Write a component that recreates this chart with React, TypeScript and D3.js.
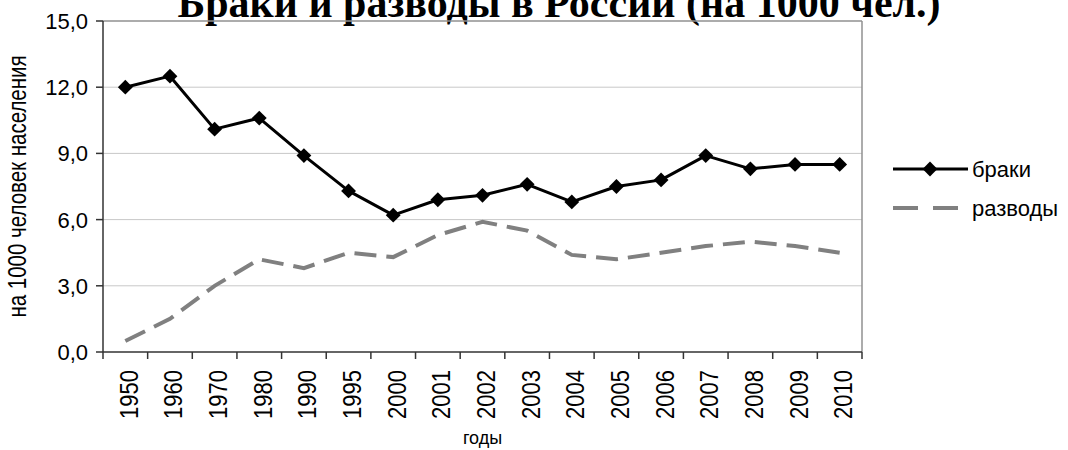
import * as d3 from 'd3';
import * as React from 'react';

const years = ['1950', '1960', '1970', '1980', '1990', '1995', '2000', '2001', '2002', '2003', '2004', '2005', '2006', '2007', '2008', '2009', '2010'];
const marriages = [12.0, 12.5, 10.1, 10.6, 8.9, 7.3, 6.2, 6.9, 7.1, 7.6, 6.8, 7.5, 7.8, 8.9, 8.3, 8.5, 8.5];
const divorces = [0.5, 1.5, 3.0, 4.2, 3.8, 4.5, 4.3, 5.3, 5.9, 5.5, 4.4, 4.2, 4.5, 4.8, 5.0, 4.8, 4.5];
const yTicks = [0, 3, 6, 9, 12, 15];
const seriesNames = ['браки', 'разводы'];

const W = 1068;
const H = 450;
const plot = { left: 103, right: 862, top: 21, bottom: 352 };
const sans = '"Liberation Sans", Arial, sans-serif';

const App = () => {
  const x = d3.scaleBand<string>().domain(years).range([plot.left, plot.right]);
  const y = d3.scaleLinear().domain([0, 15]).range([plot.bottom, plot.top]);
  const cx = (i: number) => (x(years[i]) ?? 0) + x.bandwidth() / 2;
  const fmt = (v: number) => d3.format('.1f')(v).replace('.', ',');

  const line = d3.line<number>().x((d, i) => cx(i)).y((d) => y(d));
  const diamond = d3.symbol(d3.symbolSquare, 110)();
  const bounds = [...years.map((yr) => x(yr) ?? 0), plot.right];

  return (
    <svg width={W} height={H} style={{ position: 'absolute', left: 0, top: 0, background: '#fff' }}>
      {/* the title sits partly above the top edge, as in the source picture */}
      <text x={559} y={17} textAnchor="middle" fontFamily='"Liberation Serif", "Times New Roman", serif'
        fontWeight="bold" fontSize={42}>
        Браки и разводы в России (на 1000 чел.)
      </text>

      {/* grid */}
      {yTicks.slice(1, -1).map((t) => (
        <line key={t} x1={plot.left} x2={plot.right} y1={y(t)} y2={y(t)} stroke="#c8c8c8" strokeWidth={1} />
      ))}
      <line x1={plot.left} x2={plot.right} y1={plot.top} y2={plot.top} stroke="#909090" strokeWidth={1.5} />
      <line x1={plot.right} x2={plot.right} y1={plot.top} y2={plot.bottom} stroke="#909090" strokeWidth={1.5} />

      {/* axes */}
      <line x1={plot.left} x2={plot.left} y1={plot.top} y2={plot.bottom} stroke="#333" strokeWidth={1.5} />
      <line x1={plot.left} x2={plot.right} y1={plot.bottom} y2={plot.bottom} stroke="#333" strokeWidth={1.5} />
      {yTicks.map((t) => (
        <g key={t}>
          <line x1={plot.left - 7} x2={plot.left} y1={y(t)} y2={y(t)} stroke="#333" strokeWidth={1.5} />
          <text x={88} y={y(t)} dy="0.36em" textAnchor="end" fontFamily={sans} fontSize={22}>{fmt(t)}</text>
        </g>
      ))}
      {bounds.map((b, i) => (
        <line key={i} x1={b} x2={b} y1={plot.bottom} y2={plot.bottom + 7} stroke="#333" strokeWidth={1.5} />
      ))}
      {years.map((yr, i) => (
        <text key={yr} transform={`translate(${cx(i) + 3},${plot.bottom + 18}) rotate(-90) scale(1,1.2)`}
          textAnchor="end" dy="0.36em" fontFamily={sans} fontSize={22}>{yr}</text>
      ))}

      <text x={(plot.left + plot.right) / 2} y={444} textAnchor="middle" fontFamily={sans} fontSize={18}>годы</text>
      <text transform={`translate(17,${(plot.top + plot.bottom) / 2}) rotate(-90) scale(1,1.25)`}
        textAnchor="middle" dy="0.36em" fontFamily={sans} fontSize={20.5}>на 1000 человек населения</text>

      {/* series */}
      <path d={line(divorces) ?? ''} fill="none" stroke="#808080" strokeWidth={4} strokeDasharray="22,10" />
      <path d={line(marriages) ?? ''} fill="none" stroke="#000" strokeWidth={3} strokeLinejoin="round" />
      {marriages.map((v, i) => (
        <path key={i} d={diamond ?? ''} transform={`translate(${cx(i)},${y(v)}) rotate(45)`} fill="#000" />
      ))}

      {/* legend */}
      <line x1={893} x2={968} y1={169} y2={169} stroke="#000" strokeWidth={3} />
      <path d={diamond ?? ''} transform="translate(930,169) rotate(45)" fill="#000" />
      <text x={972} y={169} dy="0.36em" fontFamily={sans} fontSize={22}>{seriesNames[0]}</text>
      <line x1={893} x2={968} y1={208} y2={208} stroke="#808080" strokeWidth={4} strokeDasharray="25,15" />
      <text x={972} y={208} dy="0.36em" fontFamily={sans} fontSize={22}>{seriesNames[1]}</text>
    </svg>
  );
};

export default App;
